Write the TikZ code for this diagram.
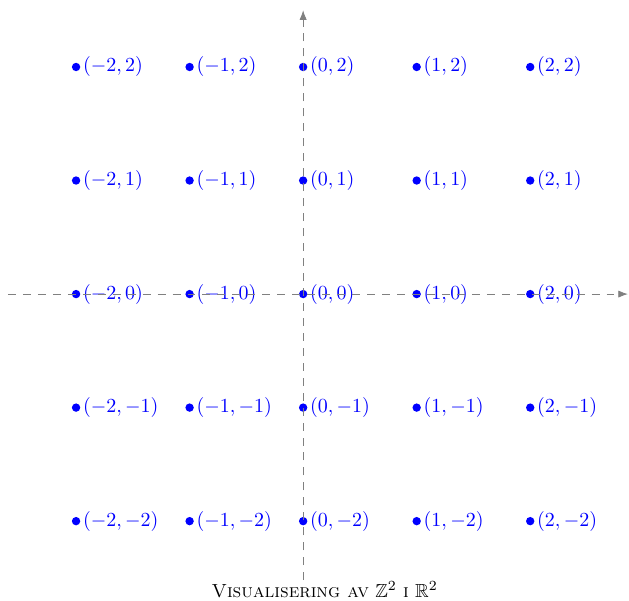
\documentclass[tikz,border=0pt]{standalone}
\usepackage{amsmath, amssymb}
\usepackage{tikz}
\usetikzlibrary{arrows.meta, positioning}

\begin{document}
\begin{tikzpicture}[x=2cm, y=2cm, >=Latex,
    axis/.style={gray, dash pattern=on 4pt off 3.5pt},
    gridpt/.style={right, blue, inner sep=3.3pt}]
  \useasboundingbox (-2.67,-2.70) rectangle (2.87,2.59);
  % Points of Z^2
  \foreach \x in {-2,...,2} {
    \foreach \y in {-2,...,2} {
      \fill[blue] (\x,\y) circle (2.1pt);
      \node[gridpt] (p\x\y) at (\x,\y) {$(\x,\y)$};
    }
  }
  % Axes
  \coordinate (xs) at (-2.6,0);
  \coordinate (xe) at (2.86,0);
  \coordinate (ys) at (0,-2.52);
  \coordinate (ye) at (0,2.5);
  \draw[axis, ->] (xs) -- (xe);
  \draw[axis, ->] (ys) -- (ye);
  % Caption
  \node[anchor=base, inner sep=0pt, font=\fontsize{9.5}{11}\selectfont] (cap) at (0.19,-2.675)
    {\textsc{Visualisering av} $\mathbb{Z}^2$ \textsc{i} $\mathbb{R}^2$};
\end{tikzpicture}
\end{document}
